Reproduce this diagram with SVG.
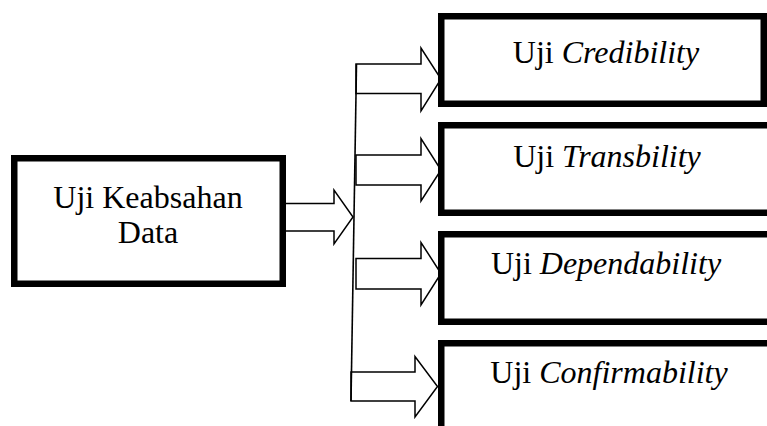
<svg xmlns="http://www.w3.org/2000/svg" width="767" height="426" viewBox="0 0 767 426">
  <style>
    .box { fill: #ffffff; stroke: #000000; stroke-width: 6.5; }
    .arrow { fill: #ffffff; stroke: #000000; stroke-width: 1.5; stroke-linejoin: miter; }
    .line { fill: none; stroke: #000000; stroke-width: 1.6; }
    .label { font-size: 32px; fill: #000000; text-anchor: middle; }
    .label .it { font-style: italic; }
  </style>
  <rect width="767" height="426" fill="#ffffff"/>

  <g id="connectors">
    <!-- block arrow from the source box to the branch line -->
    <polygon class="arrow" points="280,203.5 334,203.5 334,190 353,217 334,244 334,231 280,231"/>
    <!-- block arrows from the branch line to each test box -->
    <polygon class="arrow" points="356,64 421,64 421,48 441,79 421,111 421,93.5 356,93.5"/>
    <polygon class="arrow" points="356,155 421,155 421,138.5 441,170 421,201 421,185 356,185"/>
    <polygon class="arrow" points="356,258.5 421,258.5 421,242.5 441,273.5 421,305 421,289 356,289"/>
    <polygon class="arrow" points="351,372 415,372 415,356.5 437.5,386.5 415,417 415,401 351,401"/>
    <!-- vertical branch line -->
    <line class="line" x1="356.5" y1="64" x2="351" y2="401"/>
  </g>

  <g font-family="Liberation Serif, Times New Roman, DejaVu Serif, serif">
    <g id="keabsahan">
      <rect class="box" x="14.25" y="158.25" width="268.5" height="125.5"/>
      <text class="label" x="148" y="208">Uji Keabsahan</text>
      <text class="label" x="148" y="243">Data</text>
    </g>

    <g id="credibility">
      <rect class="box" x="441.25" y="16.25" width="322.5" height="87.5"/>
      <text class="label" x="606" y="63">Uji <tspan class="it">Credibility</tspan></text>
    </g>

    <g id="transbility">
      <rect class="box" x="441.25" y="125.25" width="340" height="87.5"/>
      <text class="label" x="607" y="167">Uji <tspan class="it">Transbility</tspan></text>
    </g>

    <g id="dependability">
      <rect class="box" x="441.25" y="234.25" width="340" height="87.5"/>
      <text class="label" x="606" y="274">Uji <tspan class="it">Dependability</tspan></text>
    </g>

    <g id="confirmability">
      <rect class="box" x="441.25" y="343.25" width="340" height="87.5"/>
      <text class="label" x="609" y="383">Uji <tspan class="it">Confirmability</tspan></text>
    </g>
  </g>
</svg>
